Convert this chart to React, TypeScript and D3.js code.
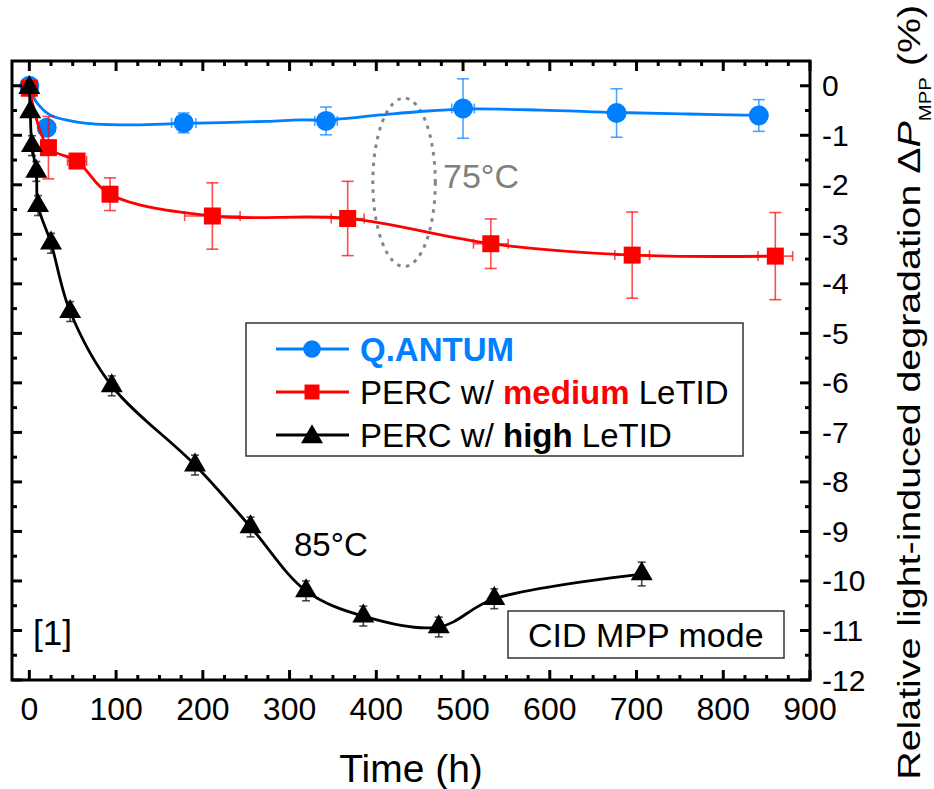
import React from 'react'
import * as d3 from 'd3'

const FONT = '"Liberation Sans", Arial, Helvetica, sans-serif'
const BLUE = '#0080ff'
const RED = '#ff0000'
const BLACK = '#000000'

// Q.ANTUM
const qantumTime = [0, 20, 178, 342, 500, 677, 841]
const qantumVal = [0, -0.85, -0.75, -0.71, -0.46, -0.55, -0.6]
const qantumErrY = [0, 0, 0.2, 0.28, 0.6, 0.49, 0.32]
const qantumErrX = [0, 0, 14, 13, 13, 0, 0]
// smoothed fit drawn through the Q.ANTUM points
const qantumFitTime = [0, 4, 9, 24, 62, 120, 178, 274, 312, 342, 405, 451, 500, 589, 677, 760, 841]
const qantumFitVal = [0, -0.2, -0.35, -0.59, -0.75, -0.79, -0.76, -0.72, -0.69, -0.69, -0.59, -0.52, -0.47, -0.49, -0.54, -0.57, -0.6]

// PERC w/ medium LeTID
const mediumTime = [0, 22, 55, 93, 211, 367, 532, 695, 860]
const mediumVal = [-0.05, -1.25, -1.52, -2.19, -2.63, -2.68, -3.19, -3.42, -3.44]
const mediumErrY = [0, 0.63, 0.08, 0.33, 0.67, 0.75, 0.5, 0.87, 0.88]
const mediumErrX = [0, 0, 11, 0, 32, 19, 20, 20, 20]

// PERC w/ high LeTID
const highTime = [0, 1, 3, 8, 10, 25, 47, 95, 191, 255, 319, 385, 472, 536, 706]
const highVal = [-0.04, -0.53, -1.21, -1.73, -2.42, -3.18, -4.56, -6.06, -7.66, -8.91, -10.2, -10.71, -10.93, -10.36, -9.86]
const highErrY = [0, 0, 0.2, 0.2, 0.2, 0.2, 0.2, 0.2, 0.2, 0.2, 0.2, 0.2, 0.2, 0.2, 0.24]

const xTicks = [0, 100, 200, 300, 400, 500, 600, 700, 800, 900]
const yTicks = [0, -1, -2, -3, -4, -5, -6, -7, -8, -9, -10, -11, -12]
const xMinor = d3.range(25, 900, 25).filter((v) => v % 100 !== 0)
const yMinor = d3.range(-0.5, -12, -0.5).filter((v) => v % 1 !== 0)

const x = d3.scaleLinear().domain([-20, 900]).range([12, 810])
const y = d3.scaleLinear().domain([-12, 0.5]).range([680, 61])

const smooth = d3.line<[number, number]>()
  .x((d) => x(d[0]))
  .y((d) => y(d[1]))
  .curve(d3.curveCatmullRom.alpha(0.5))

const zip = (a: number[], b: number[]) => a.map((v, i) => [v, b[i]] as [number, number])

// triangle anchored at its centroid, apex up
const triangle = (s: number, h: number) => `M0,${(-2 * h) / 3}L${s / 2},${h / 3}L${-s / 2},${h / 3}Z`

const Marker = ({ kind, cx, cy, color, scale = 1 }: any) => {
  if (kind === 'circle') return <circle cx={cx} cy={cy} r={10 * scale} fill={color} />
  if (kind === 'square') {
    const s = 17 * scale
    return <rect x={cx - s / 2} y={cy - s / 2} width={s} height={s} fill={color} />
  }
  return <path d={triangle(22 * scale, 19 * scale)} transform={`translate(${cx},${cy})`} fill={color} />
}

const ErrorBars = ({ t, v, ey, ex, color, cap = 6 }: any) => (
  <g stroke={color} strokeWidth={1.6} strokeOpacity={0.7} fill="none">
    {t.map((tv: number, i: number) => {
      const cx = x(tv)
      const cy = y(v[i])
      const parts = []
      if (ey && ey[i] > 0) {
        const y0 = y(v[i] + ey[i])
        const y1 = y(v[i] - ey[i])
        parts.push(<line key="v" x1={cx} x2={cx} y1={y0} y2={y1} />)
        parts.push(<line key="c0" x1={cx - cap} x2={cx + cap} y1={y0} y2={y0} />)
        parts.push(<line key="c1" x1={cx - cap} x2={cx + cap} y1={y1} y2={y1} />)
      }
      if (ex && ex[i] > 0) {
        const x0 = x(tv - ex[i])
        const x1 = x(tv + ex[i])
        parts.push(<line key="h" x1={x0} x2={x1} y1={cy} y2={cy} />)
        parts.push(<line key="d0" x1={x0} x2={x0} y1={cy - 5} y2={cy + 5} />)
        parts.push(<line key="d1" x1={x1} x2={x1} y1={cy - 5} y2={cy + 5} />)
      }
      return <g key={i}>{parts}</g>
    })}
  </g>
)

const Series = ({ t, v, ey, ex, fit, color, kind, cap }: any) => (
  <g>
    <path d={smooth(fit) || ''} fill="none" stroke={color} strokeWidth={2.8} />
    <ErrorBars t={t} v={v} ey={ey} ex={ex} color={color} cap={cap} />
    {t.map((tv: number, i: number) => (
      <Marker key={i} kind={kind} cx={x(tv)} cy={y(v[i])} color={color} />
    ))}
  </g>
)

const legendRows = [
  { kind: 'circle', color: BLUE },
  { kind: 'square', color: RED },
  { kind: 'triangle', color: BLACK },
]

export default function App() {
  const [x0, x1] = x.range()
  const [yb, yt] = y.range()
  const ex0 = x(432)
  const ey0 = y(-1.95)
  return (
    <svg width={934} height={789} style={{ position: 'absolute', left: 0, top: 0, background: '#fff' }}
      fontFamily={FONT}>
      {/* ellipse around the 75°C region */}
      <ellipse cx={ex0} cy={ey0} rx={x(468) - ex0} ry={y(-3.65) - ey0} fill="none"
        stroke="#858585" strokeWidth={3} strokeDasharray="3.5 5.5" />
      <text x={443} y={188} fontSize={34} fill="#808080">75°C</text>

      <Series t={qantumTime} v={qantumVal} ey={qantumErrY} ex={qantumErrX}
        fit={zip(qantumFitTime, qantumFitVal)} color={BLUE} kind="circle" />
      <Series t={mediumTime} v={mediumVal} ey={mediumErrY} ex={mediumErrX}
        fit={zip(mediumTime, mediumVal)} color={RED} kind="square" />
      <Series t={highTime} v={highVal} ey={highErrY} ex={null} cap={4}
        fit={zip(highTime, highVal)} color={BLACK} kind="triangle" />

      {/* frame and ticks */}
      <g stroke="#000" strokeWidth={3}>
        <rect x={x0} y={yt} width={x1 - x0} height={yb - yt} fill="none" />
        {xTicks.map((t) => (
          <g key={`xt${t}`}>
            <line x1={x(t)} x2={x(t)} y1={yb} y2={yb - 10} />
            <line x1={x(t)} x2={x(t)} y1={yt} y2={yt + 10} />
          </g>
        ))}
        {xMinor.map((t) => (
          <g key={`xm${t}`}>
            <line x1={x(t)} x2={x(t)} y1={yb} y2={yb - 5} />
            <line x1={x(t)} x2={x(t)} y1={yt} y2={yt + 5} />
          </g>
        ))}
        {yTicks.map((t) => (
          <g key={`yt${t}`}>
            <line x1={x0} x2={x0 + 10} y1={y(t)} y2={y(t)} />
            <line x1={x1} x2={x1 - 10} y1={y(t)} y2={y(t)} />
          </g>
        ))}
        {yMinor.map((t) => (
          <g key={`ym${t}`}>
            <line x1={x0} x2={x0 + 5} y1={y(t)} y2={y(t)} />
            <line x1={x1} x2={x1 - 5} y1={y(t)} y2={y(t)} />
          </g>
        ))}
      </g>

      {/* tick labels */}
      <g fontSize={32} textAnchor="middle">
        {xTicks.map((t) => (
          <text key={t} x={x(t)} y={720}>{t}</text>
        ))}
      </g>
      <g fontSize={30}>
        {yTicks.map((t) => (
          <text key={t} x={822} y={y(t) + 10.5}>{t === 0 ? '0' : `-${Math.abs(t)}`}</text>
        ))}
      </g>

      {/* axis titles */}
      <text x={411} y={782} fontSize={39} textAnchor="middle">Time (h)</text>
      <text transform="translate(920,5) rotate(-90) scale(1.27,1)" textAnchor="end" fontSize={31}>
        Relative light-induced degradation Δ<tspan fontStyle="italic">P</tspan>
        <tspan fontSize={16} dy={11}>MPP</tspan><tspan dy={-11}>{' (%)'}</tspan>
      </text>

      {/* annotations */}
      <text x={294} y={556} fontSize={33}>85°C</text>
      <text x={33} y={645} fontSize={35}>[1]</text>
      <rect x={508} y={611} width={276} height={47} fill="#fff" stroke="#333" strokeWidth={1.5} />
      <text x={528} y={647} fontSize={34}>CID MPP mode</text>

      {/* legend */}
      <rect x={246} y={323} width={497} height={133} fill="#fff" stroke="#333" strokeWidth={1.5} />
      {legendRows.map((r, i) => {
        const cy = 349 + i * 43
        return (
          <g key={i}>
            <line x1={276} x2={349} y1={cy} y2={cy} stroke={r.color} strokeWidth={2.8} />
            <Marker kind={r.kind} cx={312} cy={r.kind === 'triangle' ? cy + 2 : cy} color={r.color}
              scale={r.kind === 'triangle' ? 1 : 0.88} />
          </g>
        )
      })}
      <g fontSize={33}>
        <text x={360} y={361} fill={BLUE} fontWeight="bold">Q.ANTUM</text>
        <text x={360} y={404}>PERC w/ <tspan fill={RED} fontWeight="bold">medium</tspan> LeTID</text>
        <text x={360} y={447}>PERC w/ <tspan fontWeight="bold">high</tspan> LeTID</text>
      </g>
    </svg>
  )
}
